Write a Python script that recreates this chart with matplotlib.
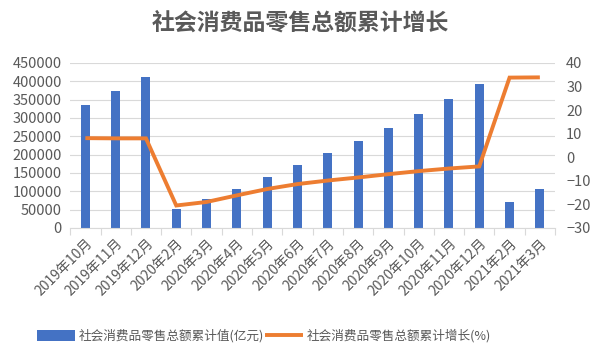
import matplotlib
matplotlib.use("Agg")
import matplotlib.pyplot as plt
import numpy as np
from matplotlib.ticker import FixedLocator

plt.rcParams['font.family'] = ['Noto Sans CJK SC', 'DejaVu Sans']

categories = ["2019年10月", "2019年11月", "2019年12月", "2020年2月", "2020年3月", "2020年4月",
              "2020年5月", "2020年6月", "2020年7月", "2020年8月", "2020年9月", "2020年10月",
              "2020年11月", "2020年12月", "2021年2月", "2021年3月"]
values = [334778, 372872, 411649, 52130, 78580, 106758, 138730, 172256, 204459, 238061,
          273324, 311963, 351426, 391981, 69737, 105221]
growth = [8.1, 8.0, 8.0, -20.5, -19.0, -16.2, -13.5, -11.4, -9.9, -8.6, -7.2, -5.9,
          -4.8, -3.9, 33.8, 33.9]
title = "社会消费品零售总额累计增长"
bar_label = "社会消费品零售总额累计值(亿元)"
line_label = "社会消费品零售总额累计增长(%)"

bar_color = "#4472C4"
line_color = "#ED7D31"
text_color = "#595959"
grid_color = "#D9D9D9"

fig = plt.figure(figsize=(6, 3.6), dpi=100)
ax = fig.add_axes([0.117, 0.367, 0.808, 0.458])
ax2 = ax.twinx()

x = np.arange(len(categories))
b = ax.bar(x, values, width=0.3, color=bar_color, zorder=2, label=bar_label)
l, = ax2.plot(x, growth, color=line_color, lw=2.8, zorder=3, label=line_label,
              solid_joinstyle='miter', solid_capstyle='butt')

ax.set_ylim(0, 450000)
ax.set_yticks(np.arange(0, 450001, 50000))
ax2.set_ylim(-30, 40)
ax2.set_yticks(np.arange(-30, 41, 10))
ax.set_xlim(-0.5, len(categories) - 0.5)

ax.grid(axis='y', color=grid_color, lw=0.8, zorder=0)
ax.set_axisbelow(True)
for a in (ax, ax2):
    for s in a.spines.values():
        s.set_visible(False)
ax.spines['bottom'].set_visible(True)
ax.spines['bottom'].set_color(grid_color)
ax.spines['bottom'].set_zorder(5)

ax.set_xticks(x)
ax.set_xticklabels(categories, rotation=45, ha='right', rotation_mode='anchor',
                   fontsize=10, color=text_color)
ax.tick_params(axis='x', which='major', length=0, pad=6)
ax.xaxis.set_minor_locator(FixedLocator(np.arange(-0.5, len(categories), 1.0)))
ax.tick_params(axis='x', which='minor', length=5, color=grid_color, width=0.8)
ax.tick_params(axis='y', length=0, labelsize=10.5, labelcolor=text_color, pad=6)
ax2.tick_params(axis='y', length=0, labelsize=10.5, labelcolor=text_color, pad=8)

fig.text(0.5, 0.935, title, ha='center', va='center', fontsize=16.5, fontweight='bold',
         color=text_color)

fig.legend(handles=[b, l], labels=[bar_label, line_label], loc='center',
           bbox_to_anchor=(0.44, 0.067), ncol=2, frameon=False, fontsize=9.1,
           labelcolor=text_color, handlelength=3.0, handleheight=0.9,
           handletextpad=0.3, columnspacing=0.1)

fig.savefig("out.png", dpi=100)
